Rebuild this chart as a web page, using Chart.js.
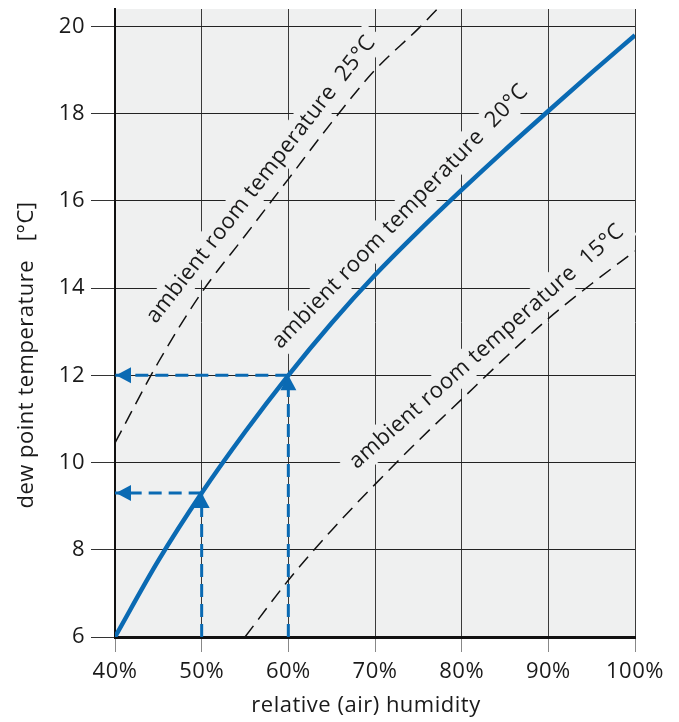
<!DOCTYPE html>
<html><head><meta charset="utf-8">
<script src="https://cdn.jsdelivr.net/npm/chart.js@4.4.1/dist/chart.umd.min.js"></script>
<style>html,body{margin:0;padding:0;background:#fff;}#wrap{width:679px;height:722px;}</style>
</head><body><div id="wrap"><canvas id="c" width="679" height="722"></canvas></div>
<script>
// ---- data ----
const humidity20 = [40, 45, 50, 55, 60, 65, 70, 75, 80, 85, 90, 95, 100];
const dew20      = [6.0, 7.75, 9.3, 10.7, 12.0, 13.2, 14.3, 15.3, 16.25, 17.17, 18.06, 18.94, 19.8];
const humidity25 = [40, 45, 50, 55, 60, 65, 70, 75, 77.2];
const dew25      = [10.45, 12.3, 13.9, 15.2, 16.5, 17.8, 19.0, 19.95, 20.4];
const humidity15 = [55, 60, 65, 70, 75, 80, 85, 90, 95, 100];
const dew15      = [6.0, 7.3, 8.45, 9.5, 10.5, 11.45, 12.4, 13.3, 14.1, 14.85];
const arrowHumidity = [50, 60];
const arrowDew      = [9.3, 12.0];
const xTicks = [40, 50, 60, 70, 80, 90, 100];
const yTicks = [6, 8, 10, 12, 14, 16, 18, 20];
const curveLabels = ['ambient room temperature  25°C', 'ambient room temperature  20°C', 'ambient room temperature  15°C'];
const xTitle = 'relative (air) humidity';
const yTitle = 'dew point temperature   [°C]';

// ---- styling ----
const FONT = '"Open Sans", "Noto Sans", sans-serif';
const BLUE = '#0a6ab3';
const TEXT = '#1a1a1a';
const BG = '#eff0f0';
const SPACING = '0.5px';
const labelPlacement = [
  {x: 56.85, y: 16.49, angle: -52},
  {x: 72.9,  y: 15.64, angle: -46},
  {x: 82.9,  y: 12.66, angle: -41.4}
];

const pts = (xs, ys) => xs.map((x, i) => ({x, y: ys[i]}));
const datasets = [
  {data: pts(humidity20, dew20), borderColor: BLUE, borderWidth: 4.5, cubicInterpolationMode: 'monotone', pointRadius: 0},
  {data: pts(humidity25, dew25), borderColor: '#111', borderWidth: 1.5, borderDash: [14, 8], cubicInterpolationMode: 'monotone', pointRadius: 0},
  {data: pts(humidity15, dew15), borderColor: '#111', borderWidth: 1.5, borderDash: [14, 8], cubicInterpolationMode: 'monotone', pointRadius: 0}
];
arrowHumidity.forEach((h, i) => {
  datasets.push({data: [{x: h, y: yTicks[0]}, {x: h, y: arrowDew[i]}], borderColor: BLUE, borderWidth: 3, borderDash: [13, 7], pointRadius: 0});
  datasets.push({data: [{x: h, y: arrowDew[i]}, {x: xTicks[0], y: arrowDew[i]}], borderColor: BLUE, borderWidth: 3, borderDash: [13, 7], pointRadius: 0});
});

const bgPlugin = {
  id: 'bg',
  beforeDraw(chart) {
    const {ctx, chartArea: a} = chart;
    ctx.letterSpacing = SPACING;
    ctx.save(); ctx.fillStyle = BG; ctx.fillRect(a.left, a.top, a.right - a.left, a.bottom - a.top); ctx.restore();
  }
};
const labelPlugin = {
  id: 'curveLabels',
  beforeDatasetsDraw(chart) {
    const {ctx, scales: {x, y}} = chart;
    curveLabels.forEach((t, i) => {
      const p = labelPlacement[i];
      ctx.save();
      ctx.translate(x.getPixelForValue(p.x), y.getPixelForValue(p.y));
      ctx.rotate(p.angle * Math.PI / 180);
      ctx.font = '22px ' + FONT;
      ctx.letterSpacing = SPACING;
      const w = ctx.measureText(t).width;
      ctx.fillStyle = BG;
      ctx.fillRect(-w / 2 - 8, -15, w + 16, 30);
      ctx.fillStyle = TEXT; ctx.textAlign = 'center'; ctx.textBaseline = 'middle';
      ctx.fillText(t, 0, 0);
      ctx.restore();
    });
  }
};
const arrowPlugin = {
  id: 'arrows',
  afterDatasetsDraw(chart) {
    const {ctx, scales: {x, y}} = chart;
    ctx.save(); ctx.fillStyle = BLUE;
    arrowHumidity.forEach((h, i) => {
      const px = x.getPixelForValue(h), py = y.getPixelForValue(arrowDew[i]);
      ctx.beginPath(); ctx.moveTo(px, py); ctx.lineTo(px - 8, py + 15); ctx.lineTo(px + 8, py + 15); ctx.closePath(); ctx.fill();
      const lx = x.getPixelForValue(xTicks[0]);
      ctx.beginPath(); ctx.moveTo(lx + 1, py); ctx.lineTo(lx + 16, py - 8); ctx.lineTo(lx + 16, py + 8); ctx.closePath(); ctx.fill();
    });
    ctx.restore();
  }
};
const titlePlugin = {
  id: 'titles',
  afterDraw(chart) {
    const {ctx} = chart;
    ctx.save(); ctx.fillStyle = TEXT; ctx.font = '22px ' + FONT; ctx.letterSpacing = SPACING;
    ctx.textAlign = 'center'; ctx.textBaseline = 'middle';
    ctx.fillText(xTitle, 366, 706);
    ctx.translate(27, 355); ctx.rotate(-Math.PI / 2); ctx.fillText(yTitle, 0, 0);
    ctx.restore();
  }
};

new Chart(document.getElementById('c'), {
  type: 'line',
  data: {datasets},
  plugins: [bgPlugin, labelPlugin, arrowPlugin, titlePlugin],
  options: {
    responsive: false, animation: false, devicePixelRatio: 1,
    layout: {padding: {top: 9, right: 44, bottom: 0, left: 0}},
    plugins: {legend: {display: false}, tooltip: {enabled: false}},
    elements: {line: {borderCapStyle: 'butt'}},
    scales: {
      x: {
        type: 'linear', min: xTicks[0], max: xTicks[xTicks.length - 1],
        afterBuildTicks: s => { s.ticks = xTicks.map(v => ({value: v})); },
        afterFit: s => { s.height = 85; s.paddingLeft = 0; s.paddingRight = 0; },
        ticks: {callback: v => v + '%', font: {family: FONT, size: 22}, color: TEXT, padding: 7, maxRotation: 0, autoSkip: false},
        grid: {color: '#3a3a3a', lineWidth: 1, tickLength: 15, tickColor: '#888'},
        border: {color: '#111', width: 3}
      },
      y: {
        type: 'linear', min: yTicks[0], max: 20.4,
        afterBuildTicks: s => { s.ticks = yTicks.map(v => ({value: v})); },
        afterFit: s => { s.width = 115; s.paddingTop = 0; s.paddingBottom = 0; },
        ticks: {font: {family: FONT, size: 22}, color: TEXT, padding: 6},
        grid: {color: '#222', lineWidth: 1, tickLength: 24, tickColor: '#333'},
        border: {color: '#111', width: 2}
      }
    }
  }
});
</script></body></html>
